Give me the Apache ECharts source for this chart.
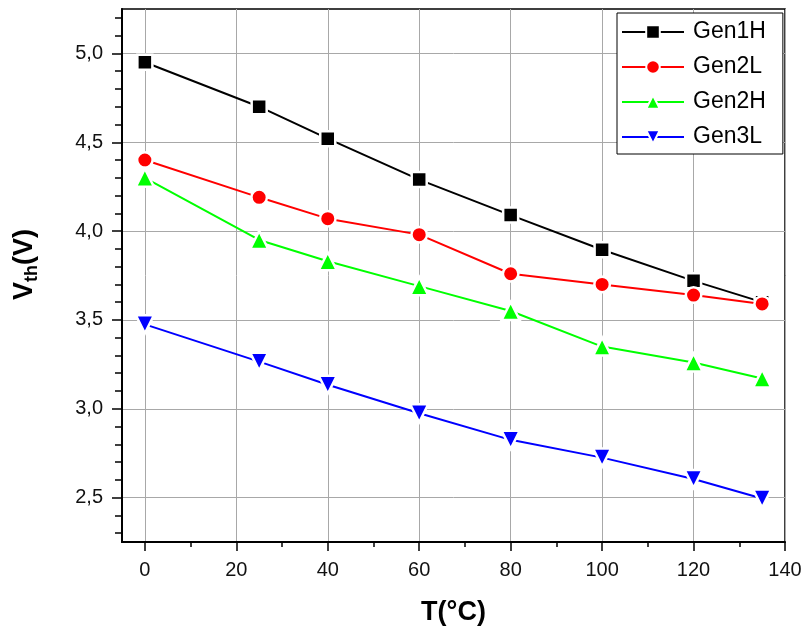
<!DOCTYPE html>
<html>
<head>
<meta charset="utf-8">
<script src="https://cdn.jsdelivr.net/npm/echarts@6/dist/echarts.min.js"></script>
<style>html,body{margin:0;padding:0;background:#fff;}#c{width:806px;height:631px;}</style>
</head>
<body>
<div id="c"></div>
<script>
var temps = [0, 25, 40, 60, 80, 100, 120, 135];
var gen1H = [4.95, 4.70, 4.52, 4.29, 4.09, 3.895, 3.72, 3.60];
var gen2L = [4.40, 4.19, 4.07, 3.98, 3.76, 3.70, 3.64, 3.59];
var gen2H = [4.30, 3.95, 3.83, 3.69, 3.55, 3.35, 3.26, 3.17];
var gen3L = [3.475, 3.265, 3.135, 2.975, 2.825, 2.725, 2.605, 2.495];
var xMajor = [0, 20, 40, 60, 80, 100, 120, 140];
var xMinor = [10, 30, 50, 70, 90, 110, 130];
var yMajor = [2.5, 3.0, 3.5, 4.0, 4.5, 5.0];
var yMinor = [2.3, 2.4, 2.6, 2.7, 2.8, 2.9, 3.1, 3.2, 3.3, 3.4, 3.6, 3.7, 3.8, 3.9, 4.1, 4.2, 4.3, 4.4, 4.6, 4.7, 4.8, 4.9, 5.1, 5.2];
var seriesNames = ['Gen1H', 'Gen2L', 'Gen2H', 'Gen3L'];
var seriesColors = ['#000000', '#ff0000', '#00ff00', '#0000ff'];
var seriesSymbols = ['rect', 'circle', 'triangle', 'path://M0,0 L10,0 L5,9 Z'];
var seriesSymbolSizes = [15, 15.5, 18, 18];
var seriesValues = [gen1H, gen2L, gen2H, gen3L];

function pairs(vals) { return temps.map(function (t, i) { return [t, vals[i]]; }); }

var font = 'Arial, "Liberation Sans", sans-serif';
var chart = echarts.init(document.getElementById('c'), null, {renderer: 'canvas'});

var series = seriesNames.map(function (n, i) {
  return {
    name: n, type: 'line', data: pairs(seriesValues[i]),
    xAxisIndex: 0, yAxisIndex: 0,
    symbol: seriesSymbols[i], symbolSize: seriesSymbolSizes[i], showAllSymbol: true,
    lineStyle: {color: seriesColors[i], width: 2},
    itemStyle: {color: seriesColors[i], borderColor: '#ffffff', borderWidth: 2.5},
    emphasis: {disabled: true},
    animation: false, z: 3 + i
  };
});

var baseX = {
  type: 'value', min: -5, max: 140, splitNumber: 7,
  axisLine: {show: true, onZero: false, lineStyle: {color: '#000', width: 2}}
};
var baseY = {
  type: 'value', min: 2.25, max: 5.25, splitNumber: 6,
  axisLine: {show: true, onZero: false, lineStyle: {color: '#000', width: 2}}
};

var option = {
  backgroundColor: '#fff',
  animation: false,
  grid: {left: 122, right: 21, top: 9, bottom: 87, show: true, borderColor: '#000', borderWidth: 1.5, containLabel: false},
  legend: {
    orient: 'vertical', left: 617, top: 13,
    padding: [7, 17, 5, 4],
    backgroundColor: '#fff', borderColor: '#000', borderWidth: 1,
    itemWidth: 62, itemHeight: 17, itemGap: 11,
    data: seriesNames,
    textStyle: {fontFamily: font, fontSize: 23, color: '#000', lineHeight: 24, padding: [0, 0, 0, 4]},
    selectedMode: false
  },
  xAxis: [
    Object.assign({}, baseX, {
      position: 'bottom',
      name: 'T(°C)', nameLocation: 'middle', nameGap: 57,
      nameTextStyle: {fontFamily: font, fontSize: 27, fontWeight: 'bold', color: '#000'},
      axisTick: {show: true, inside: false, length: 9, customValues: xMajor, lineStyle: {color: '#000', width: 1.5}},
      axisLabel: {show: true, customValues: xMajor, margin: 18, fontFamily: font, fontSize: 20, color: '#111'},
      splitLine: {show: true, lineStyle: {color: '#a8a8a8', width: 1}}
    }),
    Object.assign({}, baseX, {
      position: 'bottom',
      axisLine: {show: false, onZero: false},
      axisTick: {show: true, inside: false, length: 5, customValues: xMinor, lineStyle: {color: '#000', width: 1.5}},
      axisLabel: {show: false},
      splitLine: {show: false}
    })
  ],
  yAxis: [
    Object.assign({}, baseY, {
      position: 'left',
      name: '{v|V}{s|th}{v|(V)}', nameLocation: 'middle', nameGap: 81, nameRotate: 90,
      nameTextStyle: {
        padding: [0, 0, 0, 22],
        rich: {
          v: {fontFamily: font, fontSize: 27, fontWeight: 'bold', color: '#000', lineHeight: 32},
          s: {fontFamily: font, fontSize: 18, fontWeight: 'bold', color: '#000', lineHeight: 18, verticalAlign: 'bottom'}
        }
      },
      axisTick: {show: true, inside: false, length: 10, customValues: yMajor, lineStyle: {color: '#000', width: 1.5}},
      axisLabel: {show: true, customValues: yMajor, margin: 19, fontFamily: font, fontSize: 20, color: '#111',
        formatter: function (v) { return v.toFixed(1).replace('.', ','); }},
      splitLine: {show: true, lineStyle: {color: '#a8a8a8', width: 1}}
    }),
    Object.assign({}, baseY, {
      position: 'left',
      axisLine: {show: false, onZero: false},
      axisTick: {show: true, inside: false, length: 7, customValues: yMinor, lineStyle: {color: '#000', width: 1.5}},
      axisLabel: {show: false},
      splitLine: {show: false}
    })
  ],
  series: series
};
chart.setOption(option);
</script>
</body>
</html>
